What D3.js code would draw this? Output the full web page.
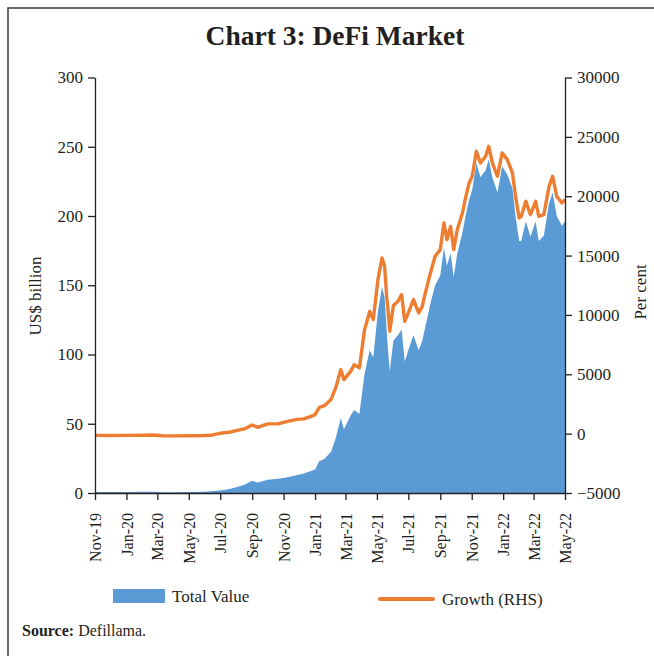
<!DOCTYPE html>
<html>
<head>
<meta charset="utf-8">
<script src="https://cdn.jsdelivr.net/npm/d3@7"></script>
<style>
body { margin: 0; background: #fff; }
svg text { font-family: "Liberation Serif", serif; fill: #231f20; }
</style>
</head>
<body>
<div id="chart"></div>
<script>
// values (US$ billion, per cent growth)
var dates = [
  "2019-11-01", "2019-12-01", "2020-01-01", "2020-02-01", "2020-02-20", "2020-03-12",
  "2020-04-01", "2020-05-01", "2020-06-01", "2020-06-13", "2020-06-25", "2020-07-05",
  "2020-07-21", "2020-08-01", "2020-08-17", "2020-09-01", "2020-09-12", "2020-10-01",
  "2020-10-21", "2020-11-01", "2020-11-15", "2020-11-28", "2020-12-10", "2020-12-24",
  "2021-01-01", "2021-01-09", "2021-01-19", "2021-02-01", "2021-02-10", "2021-02-20",
  "2021-02-26", "2021-03-11", "2021-03-18", "2021-03-28", "2021-04-07", "2021-04-14",
  "2021-04-17", "2021-04-24", "2021-05-03", "2021-05-11", "2021-05-16", "2021-05-20",
  "2021-05-22", "2021-05-26", "2021-06-02", "2021-06-11", "2021-06-18", "2021-06-24",
  "2021-07-01", "2021-07-11", "2021-07-21", "2021-07-28", "2021-08-03", "2021-08-13",
  "2021-08-22", "2021-09-01", "2021-09-08", "2021-09-14", "2021-09-21", "2021-09-27",
  "2021-10-04", "2021-10-14", "2021-10-20", "2021-10-27", "2021-11-02", "2021-11-10",
  "2021-11-18", "2021-11-28", "2021-12-04", "2021-12-11", "2021-12-21", "2021-12-30",
  "2022-01-09", "2022-01-19", "2022-01-25", "2022-02-01", "2022-02-05", "2022-02-14",
  "2022-02-23", "2022-03-05", "2022-03-11", "2022-03-21", "2022-03-31", "2022-04-07",
  "2022-04-15", "2022-04-25", "2022-05-01"
];

var totalValue = [
  0.7, 0.67, 0.7, 0.85, 0.9, 0.6,
  0.55, 0.7, 0.95, 1.2, 1.6, 2.0,
  3.0, 4.2, 6.0, 8.8, 7.5, 9.6,
  10.2, 10.8, 12, 13, 14, 15.8,
  17, 23, 24.6, 29.8, 39.5, 54,
  46, 56, 60, 57, 86, 98,
  103, 98, 131, 149, 141, 117,
  106, 88, 110, 114, 118, 95,
  103, 114, 103, 110, 120, 137,
  150, 157, 177, 164, 173, 156,
  173, 188, 200, 212, 219, 238,
  228, 233, 241, 228, 217, 236,
  230, 220, 200, 182, 182, 196,
  185, 196, 182, 186, 209, 217,
  200, 193, 196
];

var growth = [
  -150, -160, -150, -130, -120, -180,
  -190, -180, -160, -140, -25, 50,
  140, 250, 400, 730, 530, 820,
  820, 950, 1100, 1200, 1240, 1450,
  1600, 2200, 2360, 2880, 3850, 5390,
  4550, 5250, 5810, 5535, 8760, 9800,
  10300, 9600, 12970, 14800, 14100, 11500,
  10720, 8620, 10800, 11150, 11710, 9460,
  10170, 11290, 10170, 10720, 11850, 13540,
  14940, 15500, 17750, 16340, 17460, 15500,
  17190, 18590, 19860, 21120, 21680, 23780,
  22800, 23360, 24200, 22800, 21680, 23650,
  23080, 21960, 19990, 18170, 18300, 19570,
  18450, 19570, 18310, 18450, 20830, 21680,
  19990, 19440, 19710
];

var leftTicks = [0, 50, 100, 150, 200, 250, 300];
var rightTicks = [-5000, 0, 5000, 10000, 15000, 20000, 25000, 30000];

var width = 654, height = 656;
var plotLeft = 95, plotRight = 565, plotTop = 77.5, plotBottom = 493;
var blue = "#5b9bd5", orange = "#ed7d31", ink = "#231f20";

var parse = d3.timeParse("%Y-%m-%d");
var rows = dates.map(function (d, i) {
  return {date: parse(d), value: totalValue[i], growth: growth[i]};
});

var svg = d3.select("#chart").append("svg")
  .attr("width", width)
  .attr("height", height);

// frame
svg.append("path")
  .attr("d", "M8,656 L8,8 L654,8")
  .attr("fill", "none")
  .attr("stroke", "#3a3a3a")
  .attr("stroke-width", 1.5);

svg.append("text")
  .attr("x", 335)
  .attr("y", 45)
  .attr("text-anchor", "middle")
  .attr("font-size", 27.5)
  .attr("font-weight", "bold")
  .text("Chart 3: DeFi Market");

var x = d3.scaleTime()
  .domain([parse("2019-11-01"), parse("2022-05-01")])
  .range([plotLeft, plotRight]);

var yLeft = d3.scaleLinear().domain([0, 300]).range([plotBottom, plotTop]);
var yRight = d3.scaleLinear().domain([-5000, 30000]).range([plotBottom, plotTop]);

var area = d3.area()
  .x(function (d) { return x(d.date); })
  .y0(yLeft(0))
  .y1(function (d) { return yLeft(d.value); });

var line = d3.line()
  .x(function (d) { return x(d.date); })
  .y(function (d) { return yRight(d.growth); });

svg.append("path")
  .datum(rows)
  .attr("d", area)
  .attr("fill", blue);

svg.append("path")
  .datum(rows)
  .attr("d", line)
  .attr("fill", "none")
  .attr("stroke", orange)
  .attr("stroke-width", 3.4)
  .attr("stroke-linejoin", "round");

var styleAxis = function (g) {
  g.selectAll("path, line").attr("stroke", ink).attr("stroke-width", 1.3);
  g.selectAll("text").attr("font-size", 17).attr("fill", ink)
    .style("font-family", "'Liberation Serif', serif");
};

svg.append("g")
  .attr("transform", "translate(" + plotLeft + ",0)")
  .call(d3.axisLeft(yLeft).tickValues(leftTicks).tickSize(7).tickSizeOuter(0).tickPadding(5))
  .call(styleAxis);

svg.append("g")
  .attr("transform", "translate(" + plotRight + ",0)")
  .call(d3.axisRight(yRight).tickValues(rightTicks).tickFormat(d3.format("d"))
    .tickSize(7).tickSizeOuter(0).tickPadding(5))
  .call(styleAxis);

var xAxis = svg.append("g")
  .attr("transform", "translate(0," + plotBottom + ")")
  .call(d3.axisBottom(x)
    .ticks(d3.timeMonth.every(2))
    .tickFormat(d3.timeFormat("%b-%y"))
    .tickSize(7).tickSizeOuter(0))
  .call(styleAxis);

xAxis.selectAll("text")
  .attr("font-size", 16)
  .attr("transform", "rotate(-90)")
  .attr("x", -20)
  .attr("y", 0)
  .attr("dy", "0.35em")
  .style("text-anchor", "end");

// axis titles
svg.append("text")
  .attr("transform", "translate(41,296) rotate(-90)")
  .attr("text-anchor", "middle")
  .attr("font-size", 17)
  .text("US$ billion");

svg.append("text")
  .attr("transform", "translate(646,292) rotate(-90)")
  .attr("text-anchor", "middle")
  .attr("font-size", 17)
  .text("Per cent");

// legend
svg.append("rect")
  .attr("x", 113).attr("y", 589)
  .attr("width", 52).attr("height", 14)
  .attr("fill", blue);

svg.append("text")
  .attr("x", 172).attr("y", 602)
  .attr("font-size", 17)
  .text("Total Value");

svg.append("line")
  .attr("x1", 380).attr("x2", 433)
  .attr("y1", 599).attr("y2", 599)
  .attr("stroke", orange)
  .attr("stroke-width", 4)
  .attr("stroke-linecap", "round");

svg.append("text")
  .attr("x", 442).attr("y", 605)
  .attr("font-size", 17)
  .text("Growth (RHS)");

var src = svg.append("text")
  .attr("x", 22).attr("y", 636)
  .attr("font-size", 16);
src.append("tspan").attr("font-weight", "bold").text("Source:");
src.append("tspan").text(" Defillama.");
</script>
</body>
</html>
